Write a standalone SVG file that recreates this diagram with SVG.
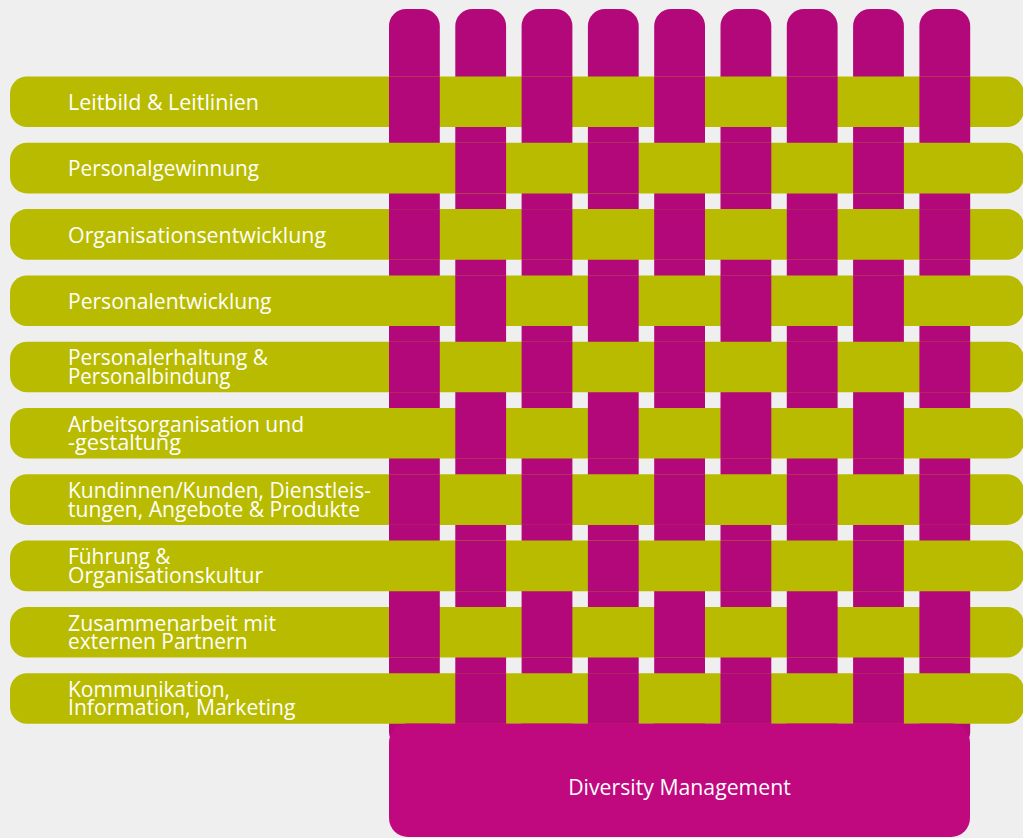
<svg xmlns="http://www.w3.org/2000/svg" width="1023" height="838" viewBox="0 0 1023 838">
<style>
.bg{fill:#efefef}
.col{fill:#b30879}
.row{fill:#b9bb00}
.box{fill:#c0087f}
.t{font-family:"Open Sans","Noto Sans",sans-serif;font-size:21px;fill:#ffffff}
</style>
<defs>
<rect id="cell" width="50.8" height="50.6" class="col"/>
</defs>
<rect class="bg" x="0" y="0" width="1023" height="838"/>
<g id="columns">
<rect class="col" x="389" y="9" width="50.8" height="740" rx="17"/>
<rect class="col" x="455.3" y="9" width="50.8" height="740" rx="17"/>
<rect class="col" x="521.6" y="9" width="50.8" height="740" rx="17"/>
<rect class="col" x="587.9" y="9" width="50.8" height="740" rx="17"/>
<rect class="col" x="654.2" y="9" width="50.8" height="740" rx="17"/>
<rect class="col" x="720.5" y="9" width="50.8" height="740" rx="17"/>
<rect class="col" x="786.8" y="9" width="50.8" height="740" rx="17"/>
<rect class="col" x="853.1" y="9" width="50.8" height="740" rx="17"/>
<rect class="col" x="919.4" y="9" width="50.8" height="740" rx="17"/>
</g>
<g id="row1"><rect class="row" x="10" y="76.5" width="1014" height="50.6" rx="17"/><text class="t" x="68" y="110" textLength="191" lengthAdjust="spacingAndGlyphs">Leitbild &amp; Leitlinien</text></g>
<g id="row2"><rect class="row" x="10" y="142.8" width="1014" height="50.6" rx="17"/><text class="t" x="68" y="176.3" textLength="191" lengthAdjust="spacingAndGlyphs">Personalgewinnung</text></g>
<g id="row3"><rect class="row" x="10" y="209.1" width="1014" height="50.6" rx="17"/><text class="t" x="68" y="242.6" textLength="258" lengthAdjust="spacingAndGlyphs">Organisationsentwicklung</text></g>
<g id="row4"><rect class="row" x="10" y="275.4" width="1014" height="50.6" rx="17"/><text class="t" x="68" y="308.9" textLength="203.5" lengthAdjust="spacingAndGlyphs">Personalentwicklung</text></g>
<g id="row5"><rect class="row" x="10" y="341.7" width="1014" height="50.6" rx="17"/><text class="t" x="68" y="365" textLength="200" lengthAdjust="spacingAndGlyphs">Personalerhaltung &amp;</text><text class="t" x="68" y="383.5" textLength="162.5" lengthAdjust="spacingAndGlyphs">Personalbindung</text></g>
<g id="row6"><rect class="row" x="10" y="408" width="1014" height="50.6" rx="17"/><text class="t" x="68" y="431.5" textLength="236" lengthAdjust="spacingAndGlyphs">Arbeitsorganisation und</text><text class="t" x="68" y="450" textLength="113" lengthAdjust="spacingAndGlyphs">-gestaltung</text></g>
<g id="row7"><rect class="row" x="10" y="474.3" width="1014" height="50.6" rx="17"/><text class="t" x="68" y="498" textLength="303" lengthAdjust="spacingAndGlyphs">Kundinnen/Kunden, Dienstleis-</text><text class="t" x="68" y="516.5" textLength="292" lengthAdjust="spacingAndGlyphs">tungen, Angebote &amp; Produkte</text></g>
<g id="row8"><rect class="row" x="10" y="540.6" width="1014" height="50.6" rx="17"/><text class="t" x="68" y="564.3" textLength="102.5" lengthAdjust="spacingAndGlyphs">Führung &amp;</text><text class="t" x="68" y="582.8" textLength="195" lengthAdjust="spacingAndGlyphs">Organisationskultur</text></g>
<g id="row9"><rect class="row" x="10" y="606.9" width="1014" height="50.6" rx="17"/><text class="t" x="68" y="630.6" textLength="208" lengthAdjust="spacingAndGlyphs">Zusammenarbeit mit</text><text class="t" x="68" y="649.1" textLength="179.5" lengthAdjust="spacingAndGlyphs">externen Partnern</text></g>
<g id="row10"><rect class="row" x="10" y="673.2" width="1014" height="50.6" rx="17"/><text class="t" x="68" y="696.9" textLength="162" lengthAdjust="spacingAndGlyphs">Kommunikation,</text><text class="t" x="68" y="715.4" textLength="227.5" lengthAdjust="spacingAndGlyphs">Information, Marketing</text></g>
<g id="weave">
<use href="#cell" x="389" y="76.5"/><use href="#cell" x="521.6" y="76.5"/><use href="#cell" x="654.2" y="76.5"/><use href="#cell" x="786.8" y="76.5"/><use href="#cell" x="919.4" y="76.5"/>
<use href="#cell" x="455.3" y="142.8"/><use href="#cell" x="587.9" y="142.8"/><use href="#cell" x="720.5" y="142.8"/><use href="#cell" x="853.1" y="142.8"/>
<use href="#cell" x="389" y="209.1"/><use href="#cell" x="521.6" y="209.1"/><use href="#cell" x="654.2" y="209.1"/><use href="#cell" x="786.8" y="209.1"/><use href="#cell" x="919.4" y="209.1"/>
<use href="#cell" x="455.3" y="275.4"/><use href="#cell" x="587.9" y="275.4"/><use href="#cell" x="720.5" y="275.4"/><use href="#cell" x="853.1" y="275.4"/>
<use href="#cell" x="389" y="341.7"/><use href="#cell" x="521.6" y="341.7"/><use href="#cell" x="654.2" y="341.7"/><use href="#cell" x="786.8" y="341.7"/><use href="#cell" x="919.4" y="341.7"/>
<use href="#cell" x="455.3" y="408"/><use href="#cell" x="587.9" y="408"/><use href="#cell" x="720.5" y="408"/><use href="#cell" x="853.1" y="408"/>
<use href="#cell" x="389" y="474.3"/><use href="#cell" x="521.6" y="474.3"/><use href="#cell" x="654.2" y="474.3"/><use href="#cell" x="786.8" y="474.3"/><use href="#cell" x="919.4" y="474.3"/>
<use href="#cell" x="455.3" y="540.6"/><use href="#cell" x="587.9" y="540.6"/><use href="#cell" x="720.5" y="540.6"/><use href="#cell" x="853.1" y="540.6"/>
<use href="#cell" x="389" y="606.9"/><use href="#cell" x="521.6" y="606.9"/><use href="#cell" x="654.2" y="606.9"/><use href="#cell" x="786.8" y="606.9"/><use href="#cell" x="919.4" y="606.9"/>
<use href="#cell" x="455.3" y="673.2"/><use href="#cell" x="587.9" y="673.2"/><use href="#cell" x="720.5" y="673.2"/><use href="#cell" x="853.1" y="673.2"/>
</g>
<g id="diversity">
<rect class="box" x="389" y="723.5" width="581" height="113.5" rx="19"/>
<text class="t" x="679.5" y="795" text-anchor="middle" textLength="222.7" lengthAdjust="spacingAndGlyphs">Diversity Management</text>
</g>
</svg>
